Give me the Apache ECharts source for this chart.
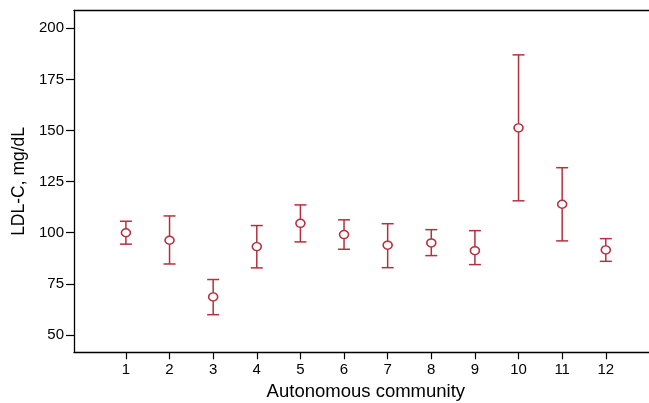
<!DOCTYPE html>
<html>
<head>
<meta charset="utf-8">
<script src="https://cdn.jsdelivr.net/npm/echarts@6/dist/echarts.min.js"></script>
<style>
html,body{margin:0;padding:0;background:#fff;}
#c{width:649px;height:403px;}
</style>
</head>
<body>
<div id="c"></div>
<script>
const communities = [1, 2, 3, 4, 5, 6, 7, 8, 9, 10, 11, 12];
const means = [100.0, 96.3, 68.6, 93.2, 104.6, 99.1, 93.9, 95.0, 91.2, 151.3, 113.9, 91.6];
const lower = [94.4, 84.7, 59.9, 82.8, 95.5, 91.9, 82.9, 88.8, 84.4, 115.6, 96.0, 86.0];
const upper = [105.6, 108.2, 77.1, 103.5, 113.6, 106.3, 104.4, 101.5, 101.0, 187.0, 131.8, 97.1];
const yTicks = [50, 75, 100, 125, 150, 175, 200];

const RED = '#b5303e';
const FONT = 'Liberation Sans, Arial, sans-serif';

const errData = communities.map((c, i) => [c, lower[i], upper[i]]);
const ptData = communities.map((c, i) => [c, means[i]]);

const chart = echarts.init(document.getElementById('c'), null, {renderer: 'canvas'});
chart.setOption({
  animation: false,
  backgroundColor: '#fff',
  grid: {left: 74, right: -8.7, top: 10.5, bottom: 50.7, containLabel: false, outerBoundsMode: 'none'},
  xAxis: [{
    type: 'value',
    min: -0.19, max: 13.19,
    position: 'bottom',
    name: 'Autonomous community',
    nameLocation: 'middle',
    nameGap: 30,
    nameTextStyle: {fontFamily: FONT, fontSize: 18.5, color: '#000', verticalAlign: 'top'},
    axisLine: {show: true, onZero: false, lineStyle: {color: '#000', width: 1.3}},
    axisTick: {show: true, length: 7, lineStyle: {color: '#000', width: 1.2}, customValues: communities},
    axisLabel: {fontFamily: FONT, fontSize: 15, color: '#000', margin: 10, customValues: communities,
      formatter: v => String(Math.round(v))},
    splitLine: {show: false}
  }, {
    type: 'value',
    min: -0.19, max: 13.19,
    position: 'top',
    axisLine: {show: true, onZero: false, lineStyle: {color: '#000', width: 1.3}},
    axisTick: {show: false},
    axisLabel: {show: false},
    splitLine: {show: false}
  }],
  yAxis: {
    type: 'value',
    min: 41.5, max: 208.7,
    name: 'LDL-C, mg/dL',
    nameLocation: 'middle',
    nameGap: 46,
    nameRotate: 90,
    nameTextStyle: {fontFamily: FONT, fontSize: 17.5, color: '#000'},
    axisLine: {show: true, onZero: false, lineStyle: {color: '#000', width: 1.3}},
    axisTick: {show: true, length: 8, lineStyle: {color: '#000', width: 1.2}, customValues: yTicks},
    axisLabel: {fontFamily: FONT, fontSize: 15, color: '#000', margin: 10, customValues: yTicks},
    splitLine: {show: false}
  },
  series: [{
    type: 'custom',
    data: errData,
    encode: {x: 0, y: [1, 2]},
    renderItem: function (params, api) {
      const x = api.value(0);
      const lo = api.coord([x, api.value(1)]);
      const hi = api.coord([x, api.value(2)]);
      const hw = 6;
      const style = {stroke: RED, lineWidth: 1.5, fill: null};
      return {
        type: 'group',
        children: [
          {type: 'line', shape: {x1: lo[0], y1: lo[1], x2: hi[0], y2: hi[1]}, style: style},
          {type: 'line', shape: {x1: lo[0] - hw, y1: lo[1], x2: lo[0] + hw, y2: lo[1]}, style: style},
          {type: 'line', shape: {x1: hi[0] - hw, y1: hi[1], x2: hi[0] + hw, y2: hi[1]}, style: style}
        ]
      };
    },
    z: 2
  }, {
    type: 'scatter',
    data: ptData,
    symbol: 'circle',
    symbolSize: [9, 8],
    itemStyle: {color: '#fff', borderColor: RED, borderWidth: 1.5, opacity: 1},
    z: 3
  }]
});
</script>
</body>
</html>
